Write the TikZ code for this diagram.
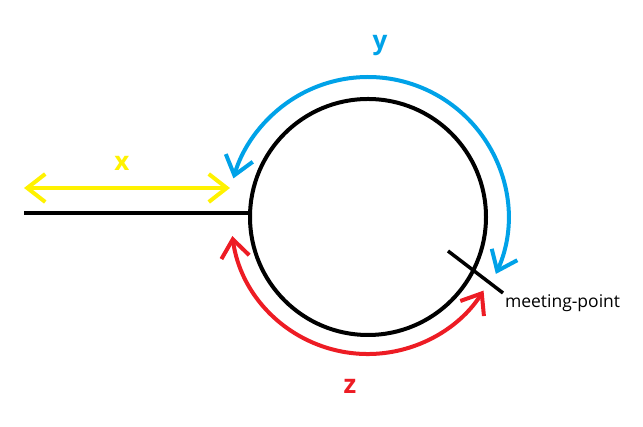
\documentclass[tikz,border=0pt]{standalone}
\usepackage{fontspec}
\setmainfont{Open Sans}
\usetikzlibrary{arrows.meta}
\definecolor{pyellow}{RGB}{255,242,0}
\definecolor{pblue}{RGB}{0,162,232}
\definecolor{pred}{RGB}{237,28,36}
\tikzset{
  barbs/.style={{Straight Barb[length=18pt,width=28pt]}-{Straight Barb[length=18pt,width=28pt]}},
  lbl/.style={font=\fontsize{26}{30}\selectfont\bfseries, inner sep=0pt},
}
\begin{document}
\begin{tikzpicture}[x=1pt,y=1pt,line width=4pt]
\useasboundingbox (0,0) rectangle (643,427);
\node[circle, draw, line width=4pt, minimum size=236pt, inner sep=0pt] (circ) at (368,210) {};
% tail
\coordinate (lend) at (24,214);
\draw (lend) -- (circ.west |- lend);
% x
\coordinate (xa) at (24,239);
\coordinate (xb) at (230,239);
\draw[pyellow, barbs] (xa) -- (xb);
\node[lbl, text=pyellow] (xl) at (122,264) {x};
% y
\draw[pblue, barbs] (circ.center) ++(-24:140) arc[start angle=-24, end angle=164, radius=140];
\node[lbl, text=pblue] (yl) at (380,381) {y};
% z
\draw[pred, barbs] (circ.center) ++(188:137) arc[start angle=188, end angle=327.5, radius=137];
\node[lbl, text=pred] (zl) at (350,41) {z};
% meeting point
\coordinate (m1) at (448,176);
\coordinate (m2) at (503,134);
\draw[line width=3.5pt] (m1) -- (m2);
\node[anchor=west, inner sep=0pt, font=\fontsize{17.5}{20}\selectfont] (mp) at (503,124) {meeting-point};
\end{tikzpicture}
\end{document}
